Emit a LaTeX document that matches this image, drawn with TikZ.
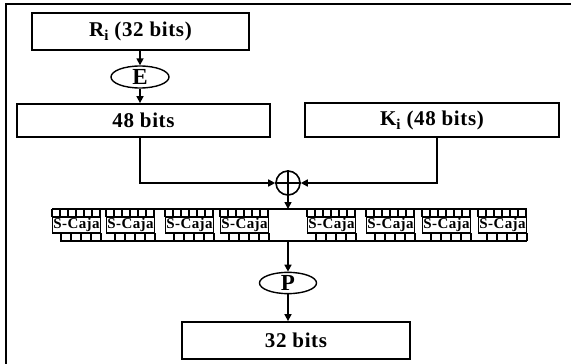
\documentclass[tikz,border=0pt]{standalone}
\usepackage{fontspec}
\setmainfont{Liberation Serif}[LetterSpace=3]
\usetikzlibrary{arrows.meta,shapes.geometric}
\begin{document}
\begin{tikzpicture}[x=1pt,y=-1pt,
  bigbox/.style={draw,line width=1.8pt,inner sep=0pt,font=\fontsize{21}{24}\selectfont\bfseries},
  oval/.style={ellipse,draw,line width=1.4pt,inner sep=0pt,font=\fontsize{23}{24}\selectfont\bfseries},
  sbox/.style={draw,line width=1.4pt,inner sep=0pt,minimum width=48pt,minimum height=16pt,font=\fontsize{15}{16}\selectfont\bfseries},
  conn/.style={line width=1.6pt},
  arr/.style={conn,-{Triangle[length=7pt,width=7pt]}},
  cell/.style={line width=1.1pt}]
\useasboundingbox (0,0) rectangle (571,364);
% outer frame (left and top only)
\draw[line width=2.4pt] (6,364) -- (6,4) -- (571,4);
% boxes
\node[bigbox,minimum width=217pt,minimum height=37pt] (Ri) at (140.5,31.5) {R{\fontsize{15}{15}\selectfont\raisebox{-4pt}{i}} (32 bits)};
\node[oval,minimum width=58pt,minimum height=22pt] (E) at (140,77) {E};
\node[bigbox,minimum width=253pt,minimum height=33pt] (B48) at (143.5,120.5) {48 bits};
\node[bigbox,minimum width=254pt,minimum height=34pt] (Ki) at (432,120) {K{\fontsize{15}{15}\selectfont\raisebox{-4pt}{i}} (48 bits)};
\node[circle,draw,line width=1.6pt,minimum size=24pt,inner sep=0pt] (X) at (288,183) {};
\draw[line width=1.6pt] (X.north) -- (X.south) (X.west) -- (X.east);
\coordinate (Kdown) at (437,137);
\coordinate (Rtop) at (288,209);
\coordinate (Rbot) at (288,241);
% S-box row
\draw[line width=1.4pt] (52,209) -- (527,209);
\draw[line width=1.4pt] (60,241) -- (527,241);
\foreach \n/\xl in {1/52,2/106,3/165,4/220,5/307,6/366,7/422,8/478}{
  \node[sbox] (S\n) at (\xl+24.5,225) {S-Caja};
  \foreach \k in {0,...,6}{
    \draw[cell] (\xl+\k*8,209) -- (\xl+\k*8,217);
  }
  \foreach \k in {0,...,4}{
    \draw[cell] (\xl+9+\k*10,233) -- (\xl+9+\k*10,241);
  }
}
\node[oval,minimum width=57pt,minimum height=20pt] (P) at (288,283) {P};
\node[bigbox,minimum width=228pt,minimum height=37pt] (B32) at (296,340.5) {32 bits};
% connectors
\draw[arr] (Ri.south -| E) -- (E.north);
\draw[arr] (E.south) -- (B48.north -| E);
\draw[arr] (B48.south -| E) |- (X.west);
\draw[arr] (Kdown) |- (X.east);
\draw[arr] (X.south) -- (Rtop);
\draw[arr] (Rbot) -- (P.north);
\draw[arr] (P.south) -- (B32.north -| P);
\end{tikzpicture}
\end{document}
